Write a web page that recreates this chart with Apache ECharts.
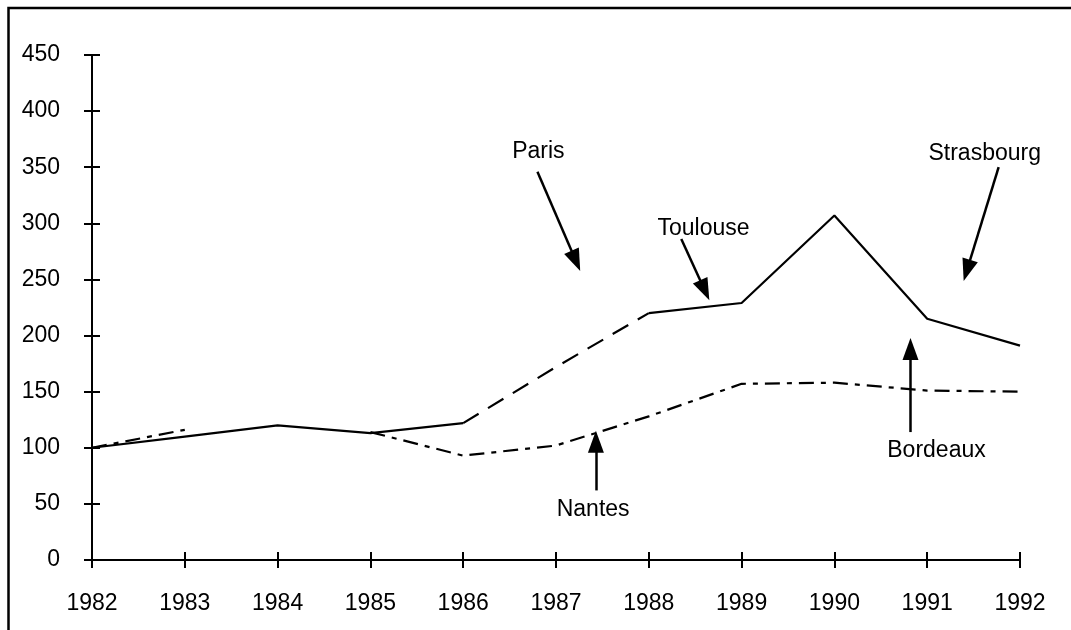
<!DOCTYPE html>
<html>
<head>
<meta charset="utf-8">
<script src="https://cdn.jsdelivr.net/npm/echarts@6/dist/echarts.min.js"></script>
<style>
  html, body { margin: 0; padding: 0; background: #fff; }
  #chart { width: 1071px; height: 630px; }
</style>
</head>
<body>
<div id="chart"></div>
<script>
const years = [1982, 1983, 1984, 1985, 1986, 1987, 1988, 1989, 1990, 1991, 1992]
// ligne continue (début + Toulouse / Strasbourg)
const solidValues = [100, 110, 120, 113, 122, null, 220, 229, 307, 215, 191]
// segment en tirets (Paris)
const parisValues = [null, null, null, null, 122, 172, 220, null, null, null, null]
// ligne tiret-point (Nantes / Bordeaux)
const dashDotValues = [100, 116, null, 114, 93, 102, 128, 157, 158, 151, 150]
const yTicks = [0, 50, 100, 150, 200, 250, 300, 350, 400, 450]

// annotations : texte + flèche, en coordonnées [année, valeur]
const noteLabels = ['Paris', 'Toulouse', 'Strasbourg', 'Bordeaux', 'Nantes']
const noteTextAt = [[1986.81, 364], [1988.59, 295], [1991.62, 362], [1991.10, 97], [1987.40, 45]]
const noteArrowFrom = [[1986.80, 346], [1988.35, 286], [1991.77, 350], [1990.82, 114], [1987.43, 62]]
const noteArrowTo = [[1987.214, 266.6], [1988.603, 240.4], [1991.428, 258], [1990.82, 188], [1987.43, 105.4]]

const font = 'Liberation Sans, Arial, Helvetica, sans-serif'
const pair = vals => years.map((y, i) => [y, vals[i]])

const baseX = {
  type: 'value', min: years[0], max: years[years.length - 1], interval: 1,
  position: 'bottom', offset: 0,
  splitLine: { show: false }
}
const baseY = {
  type: 'value', min: yTicks[0], max: yTicks[yTicks.length - 1], interval: 50,
  position: 'left', offset: 0,
  splitLine: { show: false }
}

const option = {
  animation: false,
  backgroundColor: '#fff',
  textStyle: { fontFamily: font },
  grid: { left: 92, right: 51, top: 55, bottom: 70, containLabel: false },
  graphic: [{
    type: 'rect',
    shape: { x: 8.5, y: 8, width: 1200, height: 800 },
    style: { fill: 'none', stroke: '#000', lineWidth: 2.5 },
    silent: true
  }],
  xAxis: [
    Object.assign({}, baseX, {
      axisLine: { lineStyle: { color: '#000', width: 2 } },
      axisTick: { show: true, length: 8, lineStyle: { color: '#000', width: 2 } },
      axisLabel: { color: '#000', fontSize: 23, margin: 32, formatter: v => String(v), fontFamily: font }
    }),
    Object.assign({}, baseX, {
      axisLine: { show: false },
      axisTick: { show: true, inside: true, length: 8, lineStyle: { color: '#000', width: 2 } },
      axisLabel: { show: false }
    })
  ],
  yAxis: [
    Object.assign({}, baseY, {
      axisLine: { show: true, lineStyle: { color: '#000', width: 2 } },
      axisTick: { show: true, length: 8, lineStyle: { color: '#000', width: 2 } },
      axisLabel: { color: '#000', fontSize: 23, margin: 32, fontFamily: font }
    }),
    Object.assign({}, baseY, {
      axisLine: { show: false },
      axisTick: { show: true, inside: true, length: 8, lineStyle: { color: '#000', width: 2 } },
      axisLabel: { show: false }
    })
  ],
  series: [
    {
      name: 'continu',
      type: 'line',
      data: pair(solidValues),
      symbol: 'none',
      lineStyle: { color: '#000', width: 2.2 },
      silent: true,
      markLine: {
        silent: true,
        animation: false,
        lineStyle: { color: '#000', width: 2.5, type: 'solid' },
        label: { show: false },
        data: noteArrowFrom.map((from, i) => [
          { coord: from, symbol: 'none' },
          { coord: noteArrowTo[i], symbol: 'triangle', symbolSize: [16, 22] }
        ])
      },
      markPoint: {
        silent: true,
        animation: false,
        symbol: 'circle',
        symbolSize: 0,
        label: { show: true, position: 'inside', color: '#000', fontSize: 23, fontFamily: font },
        data: noteLabels.map((t, i) => ({ coord: noteTextAt[i], value: t, label: { formatter: t } }))
      }
    },
    {
      name: 'Paris',
      type: 'line',
      data: pair(parisValues),
      symbol: 'none',
      lineStyle: { color: '#000', width: 2.2, type: [18, 11] },
      silent: true
    },
    {
      name: 'tiret-point',
      type: 'line',
      data: pair(dashDotValues),
      symbol: 'none',
      lineStyle: { color: '#000', width: 2.2, type: [15, 7, 5, 7] },
      silent: true
    }
  ]
}

const chart = echarts.init(document.getElementById('chart'), null, { renderer: 'canvas' })
chart.setOption(option)
</script>
</body>
</html>
